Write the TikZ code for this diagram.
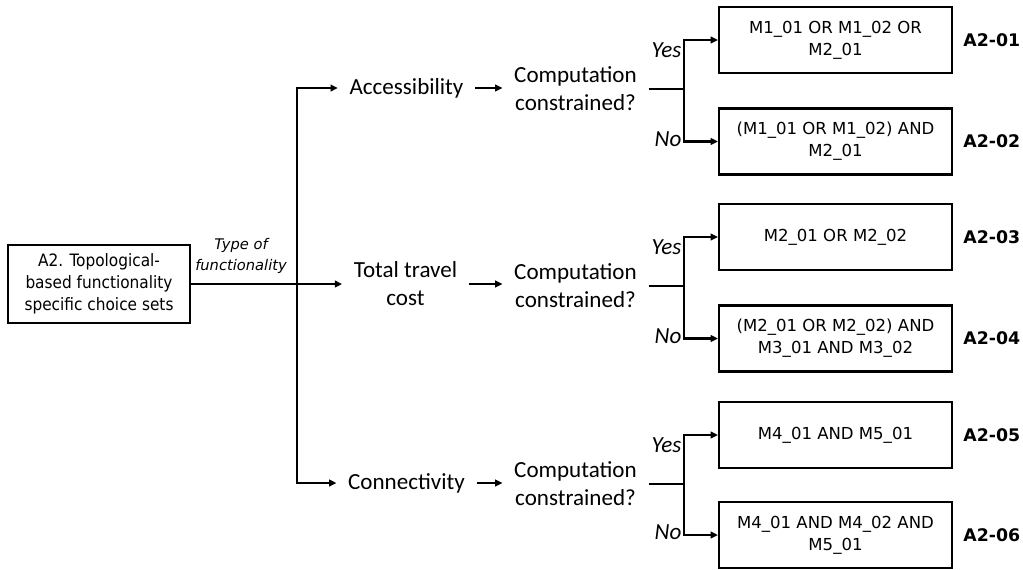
\documentclass[tikz,border=0pt]{standalone}
\usepackage{fontspec}
\setmainfont{DejaVu Sans}
\newfontfamily\calfont{Carlito}
\newfontfamily\condfont{DejaVu Sans Condensed}
\usetikzlibrary{arrows.meta,positioning}

\begin{document}
\begin{tikzpicture}[
    x=0.75pt,y=-0.75pt,
    line width=1.6pt,
    srcbox/.style={draw,align=center,minimum width=136.5pt,minimum height=58.5pt,inner sep=2pt,font=\condfont\fontsize{12.8}{16.3}\selectfont},
    optbox/.style={draw,align=center,minimum width=174.75pt,minimum height=49.5pt,inner sep=2pt,font=\fontsize{12.4}{16.3}\selectfont},
    midtext/.style={align=center,inner xsep=8pt,inner ysep=2pt,font=\calfont\fontsize{17.3}{21}\selectfont},
    yn/.style={inner sep=1.2pt,font=\calfont\itshape\fontsize{17.3}{21}\selectfont},
    code/.style={inner sep=0pt,font=\bfseries\fontsize{13}{15}\selectfont},
    arrow/.style={-{Triangle[length=5.5pt,width=5pt]}}
  ]
    \useasboundingbox (0,0) rectangle (1023,569);
    % source and first split
    \node[srcbox] (src) at (99,284) {A2. Topological-\\based functionality\\specific choice sets};
    \node[font=\itshape\fontsize{11}{15.5}\selectfont,align=center] (type) at (241,256) {Type of\\functionality};
    \coordinate (trunk) at (297,284);
    \node[midtext] (access) at (406.5,88) {Accessibility};
    \node[midtext] (travel) at (405.5,284) {Total travel\\cost};
    \node[midtext] (connect) at (406.5,483) {Connectivity};
    \draw[arrow] (src.east) -- (travel.west);
    \draw[arrow] (trunk) |- (access.west);
    \draw[arrow] (trunk) |- (connect.west);
    % computation questions
    \node[midtext] (comp1) at (575.5,89) {Computation\\constrained?};
    \node[midtext] (comp2) at (575.5,286) {Computation\\constrained?};
    \node[midtext] (comp3) at (575.5,484) {Computation\\constrained?};
    \draw[arrow] (access.east) -- (comp1.west |- access.east);
    \draw[arrow] (travel.east) -- (comp2.west |- travel.east);
    \draw[arrow] (connect.east) -- (comp3.west |- connect.east);
    % choice set options
    \node[optbox] (opt1) at (835.5,40) {M1\_01 OR M1\_02 OR\\M2\_01};
    \node[optbox] (opt2) at (835.5,141.5) {(M1\_01 OR M1\_02) AND\\M2\_01};
    \node[optbox] (opt3) at (835.5,237) {M2\_01 OR M2\_02};
    \node[optbox] (opt4) at (835.5,338.5) {(M2\_01 OR M2\_02) AND\\M3\_01 AND M3\_02};
    \node[optbox] (opt5) at (835.5,435) {M4\_01 AND M5\_01};
    \node[optbox] (opt6) at (835.5,535) {M4\_01 AND M4\_02 AND\\M5\_01};
    \foreach \i in {1,...,6}
      \node[code,right=7pt of opt\i] (lab\i) {A2-0\i};
    % yes / no branches
    \foreach \q/\y/\n in {1/1/2,2/3/4,3/5/6} {
      \coordinate (br\q) at (684,0 |- comp\q.east);
      \draw (comp\q.east) -- (br\q);
      \draw[arrow] (br\q) |- (opt\y.west);
      \draw[arrow] (br\q) |- (opt\n.west);
      \node[yn,anchor=north east] (yes\q) at (br\q |- opt\y.west) {Yes};
      \node[yn,anchor=east] (no\q) at ([yshift=2pt]br\q |- opt\n.west) {No};
    }
  \end{tikzpicture}
\end{document}
